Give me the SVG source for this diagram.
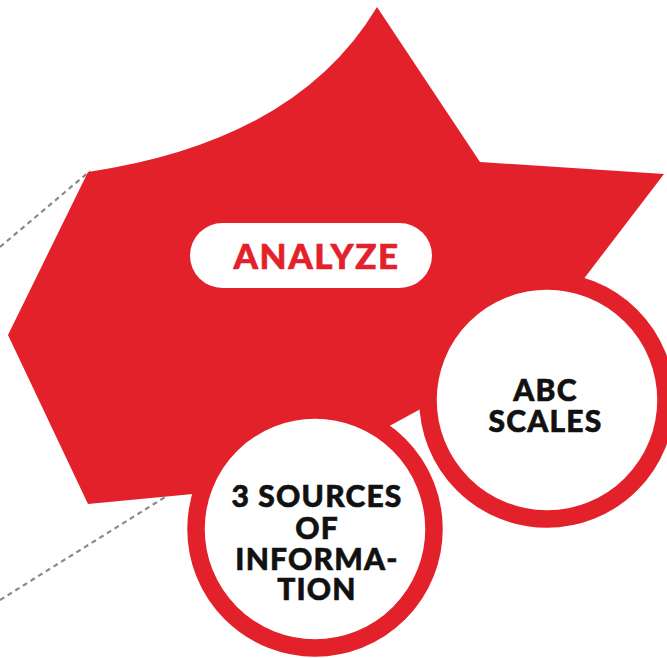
<svg xmlns="http://www.w3.org/2000/svg" width="667" height="658" viewBox="0 0 667 658">
<style>
.dash{stroke:#8a8a8a;stroke-width:2.2;stroke-dasharray:5 4;fill:none}
.blob{fill:#E3212B}
.ring{fill:#fff;stroke:#E3212B;stroke-width:17.5}
.lbl{font-family:Lato,"Liberation Sans",sans-serif;font-weight:900;font-size:30px;letter-spacing:1.2px;fill:#111;stroke:#111;stroke-width:0.6;text-anchor:middle}
.title{font-family:Lato,"Liberation Sans",sans-serif;font-weight:900;font-size:35px;letter-spacing:1.5px;fill:#E3212B;stroke:#E3212B;stroke-width:0.6;text-anchor:middle}
</style>
<g id="connectors">
<line class="dash" x1="0" y1="247" x2="90" y2="171"/>
<line class="dash" x1="0" y1="600" x2="170" y2="494"/>
</g>
<g id="analyze">
<path class="blob" d="M88,172 Q297,141 377,7 L480,162 L664,174 L560,310 L450,393 L360,442 L250,488 L193,494 L88,504 L8,335 Z"/>
<rect x="190" y="223" width="242" height="65" rx="32.5" fill="#fff"/>
<text class="title" x="316.5" y="268.5">ANALYZE</text>
</g>
<g id="abc-scales">
<circle class="ring" cx="547" cy="400" r="119"/>
<text class="lbl" x="545.5" y="401">ABC</text>
<text class="lbl" x="545.5" y="432">SCALES</text>
</g>
<g id="three-sources">
<circle class="ring" cx="315" cy="529" r="119"/>
<text class="lbl" x="317" y="507">3 SOURCES</text>
<text class="lbl" x="317" y="539">OF</text>
<text class="lbl" x="317" y="570">INFORMA-</text>
<text class="lbl" x="317" y="600">TION</text>
</g>
</svg>
